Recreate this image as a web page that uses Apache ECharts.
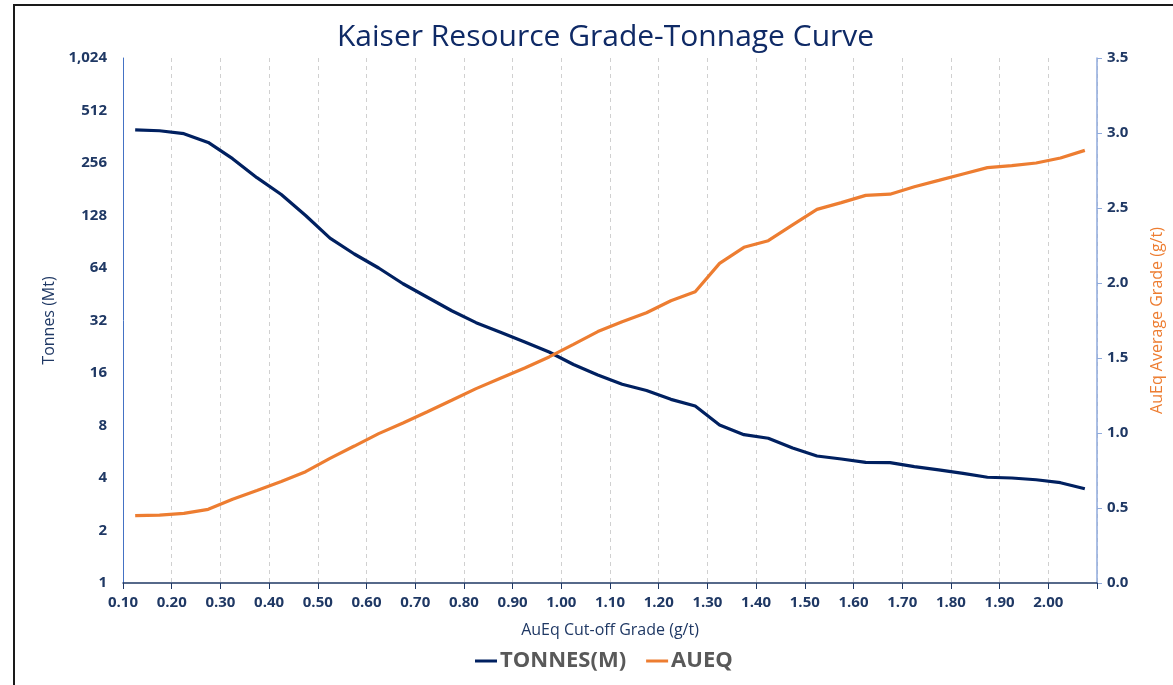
<!DOCTYPE html>
<html>
<head>
<meta charset="utf-8">
<script src="https://cdn.jsdelivr.net/npm/echarts@6/dist/echarts.min.js"></script>
<style>
html,body{margin:0;padding:0;background:#fff;}
#chart{width:1173px;height:685px;}
</style>
</head>
<body>
<div id="chart"></div>
<script>
// Cut-off grade (g/t) of each plotted point
var cutoffGrades = [0.125,0.175,0.225,0.275,0.325,0.375,0.425,0.475,0.525,0.575,
  0.625,0.675,0.725,0.775,0.825,0.875,0.925,0.975,1.025,1.075,
  1.125,1.175,1.225,1.275,1.325,1.375,1.425,1.475,1.525,1.575,
  1.625,1.675,1.725,1.775,1.825,1.875,1.925,1.975,2.025,2.075];
// Tonnes (Mt)
var tonnes = [396,392,377,336,271,211,169,128,95,77,
  64,52,43.5,36.4,31.1,27.4,24.1,21.1,17.9,15.6,
  13.8,12.7,11.3,10.35,8.05,7.09,6.76,5.94,5.35,5.14,
  4.92,4.90,4.65,4.45,4.25,4.04,4.00,3.91,3.76,3.47];
// AuEq average grade (g/t)
var aueq = [0.449,0.453,0.464,0.491,0.558,0.616,0.676,0.742,0.831,0.913,
  0.996,1.067,1.142,1.218,1.296,1.365,1.433,1.507,1.591,1.676,
  1.742,1.802,1.882,1.942,2.131,2.238,2.282,2.387,2.491,2.536,
  2.584,2.592,2.642,2.684,2.727,2.769,2.782,2.800,2.833,2.884];
var seriesNames = ['TONNES(M)', 'AUEQ'];
var titleText = 'Kaiser Resource Grade-Tonnage Curve';

var navy = '#002060';
var orange = '#ED7D31';
var labelColor = '#1F3864';
var font = 'Open Sans';

function pairs(xs, ys){ return xs.map(function(x,i){ return [x, ys[i]]; }); }

var chart = echarts.init(document.getElementById('chart'), null, {renderer:'canvas'});
chart.setOption({
  animation:false,
  backgroundColor:'#fff',
  textStyle:{fontFamily:font},
  title:{
    text:titleText, left:332, top:17,
    textStyle:{fontFamily:font, fontSize:30, fontWeight:'normal', color:'#0F2A66'}
  },
  legend:{
    bottom:8, left:470,
    data:seriesNames,
    icon:'rect', itemWidth:22, itemHeight:3, itemGap:20,
    textStyle:{fontFamily:font, fontSize:22, fontWeight:'bold', color:'#595959', padding:[0,0,0,-2]}
  },
  grid:{left:123, right:71, top:58, bottom:102},
  xAxis:{
    type:'value', min:0.1, max:2.1, interval:0.1,
    name:'AuEq Cut-off Grade (g/t)', nameLocation:'middle', nameGap:39,
    nameTextStyle:{fontFamily:font, fontSize:16, color:labelColor},
    axisLine:{show:true, lineStyle:{color:'#1F3864', width:1.5}},
    axisTick:{show:true, length:6, lineStyle:{color:'#1F3864'}},
    axisLabel:{fontFamily:font, fontSize:15, fontWeight:'bold', color:labelColor, margin:12,
      formatter:function(v){ return v > 2.05 ? '' : v.toFixed(2); }},
    splitLine:{show:true, lineStyle:{color:'#D0D0D0', type:[4,4], width:1}}
  },
  yAxis:[{
    type:'log', logBase:2, min:1, max:1024, interval:1,
    name:'Tonnes (Mt)', nameLocation:'middle', nameGap:58, nameRotate:90,
    nameTextStyle:{fontFamily:font, fontSize:16, color:labelColor},
    axisLine:{show:true, lineStyle:{color:'#4472C4', width:1}},
    axisTick:{show:false},
    axisLabel:{fontFamily:font, fontSize:15, fontWeight:'bold', color:labelColor, margin:16,
      formatter:function(v){ return Math.round(v).toLocaleString('en-US'); }},
    splitLine:{show:false}
  },{
    type:'value', min:0, max:3.5, interval:0.5, position:'right',
    name:'AuEq Average Grade (g/t)', nameLocation:'middle', nameGap:52, nameRotate:90,
    nameTextStyle:{fontFamily:font, fontSize:16, color:orange},
    axisLine:{show:true, lineStyle:{color:'#8FAADC', width:1.5}},
    axisTick:{show:true, length:5, lineStyle:{color:'#8FAADC'}},
    axisLabel:{fontFamily:font, fontSize:15, fontWeight:'bold', color:labelColor, margin:10,
      formatter:function(v){ return v.toFixed(1); }},
    splitLine:{show:false}
  }],
  series:[{
    name:seriesNames[0], type:'line', yAxisIndex:0,
    data:pairs(cutoffGrades, tonnes),
    showSymbol:false, symbol:'none',
    lineStyle:{color:navy, width:3.2}, itemStyle:{color:navy}
  },{
    name:seriesNames[1], type:'line', yAxisIndex:1,
    data:pairs(cutoffGrades, aueq),
    showSymbol:false, symbol:'none',
    lineStyle:{color:orange, width:3.2}, itemStyle:{color:orange}
  }],
  graphic:[{
    type:'polyline', silent:true,
    shape:{points:[[14,690],[14,5],[1180,5]]},
    style:{stroke:'#1a1a1a', lineWidth:2, fill:null}
  }]
});
</script>
</body>
</html>
